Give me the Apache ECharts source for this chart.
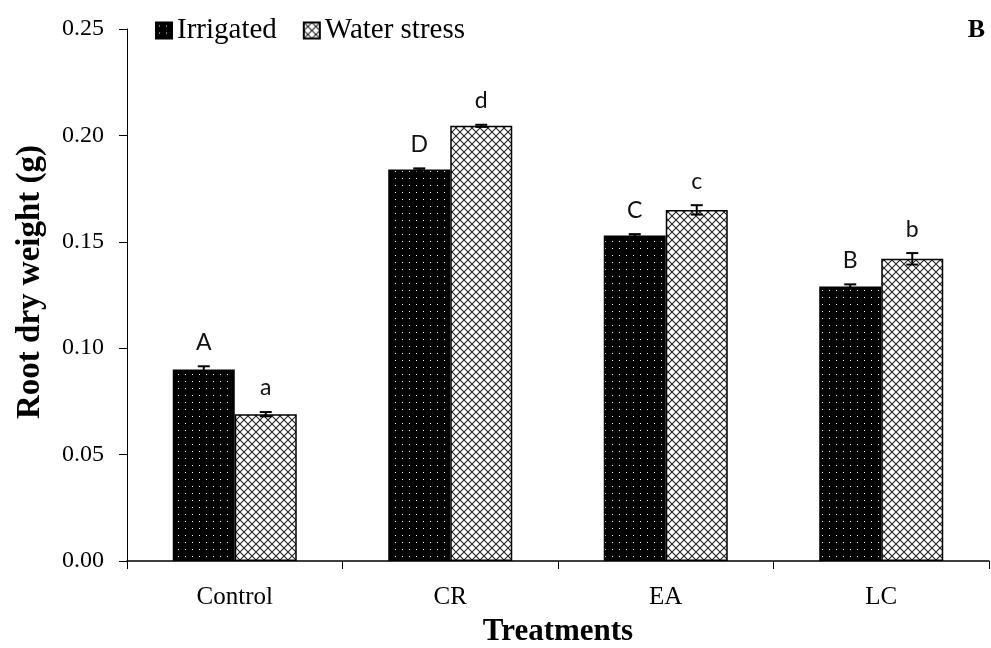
<!DOCTYPE html>
<html>
<head>
<meta charset="utf-8">
<script src="https://cdn.jsdelivr.net/npm/echarts@6/dist/echarts.min.js"></script>
<style>html,body{margin:0;padding:0;background:#fff;}#c{width:991px;height:648px;}</style>
</head>
<body>
<div id="c"></div>
<script>
const categories = ['Control', 'CR', 'EA', 'LC'];
const irrigated = [0.090, 0.184, 0.153, 0.129];
const waterStress = [0.069, 0.2045, 0.165, 0.142];
const irrigatedErr = [0.0015, 0.0005, 0.0006, 0.0010];
const waterStressErr = [0.0010, 0.0005, 0.0022, 0.0027];
const irrigatedLetters = ['A', 'D', 'C', 'B'];
const waterStressLetters = ['a', 'd', 'c', 'b'];
const yTicks = [0, 0.05, 0.10, 0.15, 0.20, 0.25];
const yTitle = 'Root dry weight (g)';
const xTitle = 'Treatments';
const panelLabel = 'B';

const BAR_W = 62;

function dotPattern() {
  const c = document.createElement('canvas');
  c.width = 7; c.height = 7;
  const g = c.getContext('2d');
  g.fillStyle = '#000'; g.fillRect(0, 0, 7, 7);
  g.fillStyle = '#fff'; g.fillRect(3, 3, 1, 1);
  return c;
}
function hatchPattern() {
  const c = document.createElement('canvas');
  c.width = 8; c.height = 8;
  const g = c.getContext('2d');
  g.fillStyle = '#fff'; g.fillRect(0, 0, 8, 8);
  g.strokeStyle = '#222'; g.lineWidth = 1.1;
  g.beginPath();
  g.moveTo(0, 0); g.lineTo(8, 8);
  g.moveTo(8, 0); g.lineTo(0, 8);
  g.stroke();
  return c;
}

const chart = echarts.init(document.getElementById('c'), null, {renderer: 'canvas'});

function errSeries(name, values, errs, letters, sign) {
  return {
    type: 'custom',
    name: name + ' err',
    z: 10,
    clip: false,
    silent: true,
    data: values.map((v, i) => [i, v, errs[i]]),
    renderItem: function (params, api) {
      const i = params.dataIndex;
      const v = api.value(1), e = api.value(2);
      const top = api.coord([api.value(0), v + e]);
      const bot = api.coord([api.value(0), v - e]);
      const x = top[0] + sign * BAR_W / 2;
      const cap = 6;
      const ls = {stroke: '#000', lineWidth: 2};
      return {
        type: 'group',
        children: [
          {type: 'line', shape: {x1: x, y1: top[1], x2: x, y2: bot[1]}, style: ls},
          {type: 'line', shape: {x1: x - cap, y1: top[1], x2: x + cap, y2: top[1]}, style: ls},
          {type: 'line', shape: {x1: x - cap, y1: bot[1], x2: x + cap, y2: bot[1]}, style: ls},
          {type: 'text', style: {x: x, y: top[1] - 24, text: letters[i], align: 'center', verticalAlign: 'middle', fontSize: 23, fontFamily: 'Lato', fill: '#111'}}
        ]
      };
    }
  };
}

const serif = '"Liberation Serif", "Times New Roman", serif';

chart.setOption({
  animation: false,
  backgroundColor: '#fff',
  grid: {left: 127, right: 2, top: 29, bottom: 87, containLabel: false, outerBoundsMode: 'none'},
  legend: {
    left: 150, top: 11,
    itemWidth: 16, itemHeight: 16, itemGap: 26,
    icon: 'rect',
    textStyle: {fontFamily: serif, fontSize: 29, color: '#000'},
    data: ['Irrigated', 'Water stress']
  },
  graphic: [
    {
      type: 'text', right: 6, top: 17,
      style: {text: panelLabel, fontFamily: serif, fontWeight: 'bold', fontSize: 26, fill: '#000'}
    },
    {
      type: 'text', x: 30, y: 282, rotation: Math.PI / 2,
      style: {text: yTitle, fontFamily: serif, fontWeight: 'bold', fontSize: 33, fill: '#000', align: 'center', verticalAlign: 'middle'}
    }
  ],
  xAxis: {
    type: 'category',
    data: categories,
    name: xTitle,
    nameLocation: 'middle',
    nameGap: 55,
    nameTextStyle: {fontFamily: serif, fontWeight: 'bold', fontSize: 31, color: '#000'},
    axisLine: {lineStyle: {color: '#000', width: 1.5}},
    axisTick: {show: true, length: 8, interval: 0, lineStyle: {color: '#000'}},
    axisLabel: {fontFamily: serif, fontSize: 25, color: '#000', margin: 24}
  },
  yAxis: {
    type: 'value',
    min: yTicks[0], max: yTicks[yTicks.length - 1], interval: 0.05,
    axisLine: {show: true, lineStyle: {color: '#000', width: 1}},
    axisTick: {show: true, length: 8, lineStyle: {color: '#000'}},
    splitLine: {show: false},
    axisLabel: {fontFamily: serif, fontSize: 24, color: '#000', margin: 23, formatter: v => v.toFixed(2)}
  },
  series: [
    {
      type: 'bar', name: 'Irrigated', data: irrigated, barWidth: BAR_W, barGap: '0%',
      itemStyle: {color: {image: dotPattern(), repeat: 'repeat'}, borderColor: '#000', borderWidth: 1.5}
    },
    {
      type: 'bar', name: 'Water stress', data: waterStress, barWidth: BAR_W, barGap: '0%',
      itemStyle: {color: {image: hatchPattern(), repeat: 'repeat'}, borderColor: '#000', borderWidth: 1.5}
    },
    errSeries('Irrigated', irrigated, irrigatedErr, irrigatedLetters, -1),
    errSeries('Water stress', waterStress, waterStressErr, waterStressLetters, 1)
  ]
});
</script>
</body>
</html>
